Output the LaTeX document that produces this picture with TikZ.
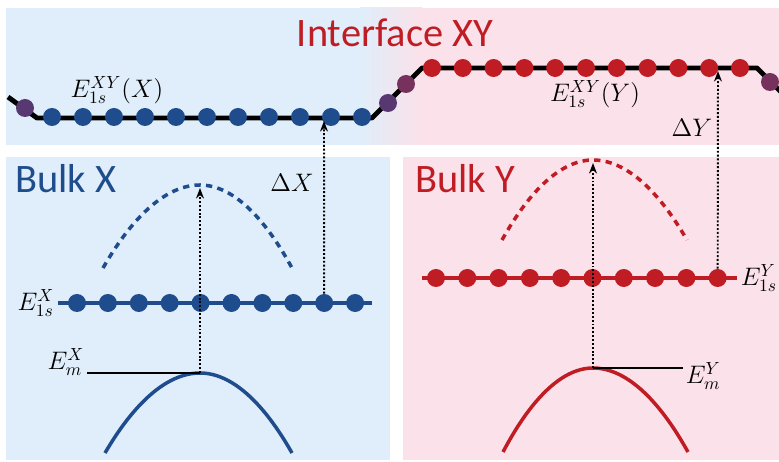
\documentclass[tikz,border=0pt]{standalone}
\usepackage{fontspec}
\setsansfont{Carlito}
\usetikzlibrary{arrows.meta}
\definecolor{bgx}{RGB}{223, 238, 250}
\definecolor{bgy}{RGB}{251, 225, 233}
\definecolor{colx}{RGB}{31, 76, 140}
\definecolor{coly}{RGB}{192, 28, 36}
\definecolor{mixa}{RGB}{88, 56, 112}
\definecolor{mixb}{RGB}{118, 50, 92}

\begin{document}
\begin{tikzpicture}[x=0.02cm, y=-0.02cm,
		lbl/.style={font=\fontsize{14.5}{17}\selectfont, inner sep=2pt},
		title/.style={font=\sffamily\fontsize{23}{27}\selectfont, inner sep=0pt},
		site/.style={circle, inner sep=0pt, minimum size=0.36cm},
		band/.style={line width=2pt},
		lead/.style={line width=1.1pt, dash pattern=on 1.1pt off 1.1pt, -{Stealth[length=6pt, width=4.5pt]}}]

			\useasboundingbox (0,0) rectangle (779,462);

			% panels
			\fill[bgx] (6,8) rectangle (362,145);
			\shade[left color=bgx, right color=bgy] (360,8) rectangle (422,145);
			\fill[bgy] (420,8) rectangle (779,145);
			\fill[bgx] (6,157) rectangle (390,460);
			\fill[bgy] (403,157) rectangle (779,460);

			% interface XY
			\draw[line width=2.8pt, line join=round] (8,97) -- (37,118) -- (372,118) -- (422,68) -- (757,68) -- (800,111);
			\foreach \i in {0,...,10}
				\node[site, fill=colx] (ix\i) at (52+31*\i, 117) {};
			\foreach \i in {0,...,10}
				\node[site, fill=coly] (iy\i) at (432+30.8*\i, 68) {};
			\node[site, fill=mixa] (ma) at (25,108) {};
			\node[site, fill=mixa] (mb) at (388,103) {};
			\node[site, fill=mixb] (mc) at (406,84) {};
			\node[site, fill=mixb] (md) at (770,82) {};

			\node[title, text=coly, anchor=base] (tixy) at (395,47) {Interface XY};
			\node[lbl] (lixyx) at (117,90) {$E^{XY}_{1s}(X)$};
			\node[lbl] (lixyy) at (595,94) {$E^{XY}_{1s}(Y)$};

			% bulk X
			\node[title, text=colx, anchor=base west] (tbx) at (15,193) {Bulk X};
			\draw[colx, band] (58,303) -- (372,303);
			\foreach \i in {0,...,9}
				\node[site, fill=colx] (bx\i) at (77+30.9*\i, 303) {};
			\node[lbl, anchor=east] (lbx) at (58,303) {$E^X_{1s}$};
			\draw[colx, band, dash pattern=on 3.6pt off 3pt] (103,268) parabola bend (200,185) (292,268);
			\draw[colx, band] (105,453) parabola bend (200,373) (292,453);
			\coordinate (mx) at (200,373);
			\coordinate (px) at (200,188);
			\coordinate (tx) at (324,121);
			\draw[line width=0.6pt] (87,373) -- (mx);
			\node[lbl, anchor=east] (lmx) at (88,362) {$E^X_m$};
			\draw[lead] (mx) -- (px);
			\draw[lead] (bx8.north) -- (tx);
			\node[lbl, anchor=base] (ldx) at (292,192) {$\Delta X$};

			% bulk Y
			\node[title, text=coly, anchor=base west] (tby) at (415,193) {Bulk Y};
			\draw[coly, band] (422,278) -- (737,278);
			\foreach \i in {0,...,9}
				\node[site, fill=coly] (by\i) at (436+31.3*\i, 278) {};
			\node[lbl, anchor=west] (lby) at (737,278) {$E^Y_{1s}$};
			\draw[coly, band, dash pattern=on 3.6pt off 3pt] (502,240) parabola bend (593,160) (687,240);
			\draw[coly, band] (503,452) parabola bend (593,368) (688,452);
			\coordinate (my) at (593,368);
			\coordinate (py) at (593,163);
			\coordinate (ty) at (718,71);
			\draw[line width=0.6pt] (my) -- (683,368);
			\node[lbl, anchor=west] (lmy) at (682,376) {$E^Y_m$};
			\draw[lead] (my) -- (py);
			\draw[lead] (by9.north) -- (ty);
			\node[lbl, anchor=base] (ldy) at (692,137) {$\Delta Y$};

		\end{tikzpicture}
\end{document}
